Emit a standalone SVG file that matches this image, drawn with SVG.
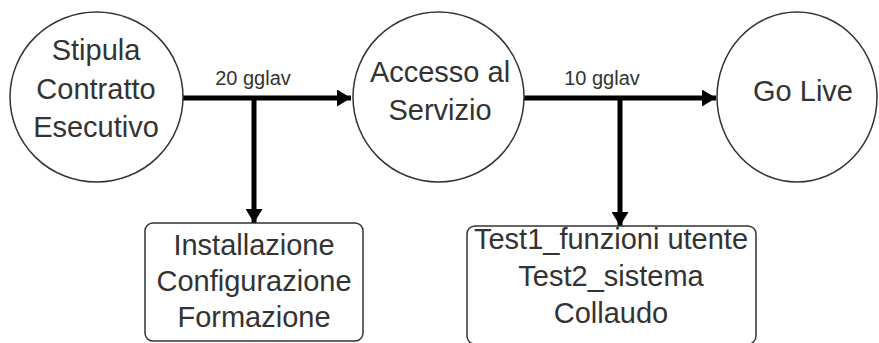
<svg xmlns="http://www.w3.org/2000/svg" width="879" height="343" viewBox="0 0 879 343">
<defs>
<marker id="ah" markerWidth="14" markerHeight="17" refX="14" refY="8.5" orient="auto" markerUnits="userSpaceOnUse">
<path d="M0,0 L14,8.5 L0,17 Z" fill="#000"/>
</marker>
</defs>
<style>
.node{fill:#fff;stroke:#333;stroke-width:1.5}
.t{font-family:"Liberation Sans",Arial,sans-serif;font-size:29px;fill:#333;text-anchor:middle}
.lbl{font-family:"Liberation Sans",Arial,sans-serif;font-size:20px;fill:#333;text-anchor:middle}
.c{stroke:#000;stroke-width:5;fill:none}
</style>
<rect width="879" height="343" fill="#fff"/>
<g id="connectors">
<line class="c" x1="183" y1="98" x2="351" y2="98" marker-end="url(#ah)"/>
<line class="c" x1="254" y1="98" x2="254" y2="223" marker-end="url(#ah)"/>
<line class="c" x1="523" y1="98" x2="716" y2="98" marker-end="url(#ah)"/>
<line class="c" x1="620" y1="98" x2="620" y2="226" marker-end="url(#ah)"/>
<text class="lbl" x="253" y="85">20 gglav</text>
<text class="lbl" x="602" y="85">10 gglav</text>
</g>
<g id="stipula">
<ellipse class="node" cx="96.5" cy="97" rx="86.5" ry="85"/>
<text class="t" x="96" y="60">Stipula</text>
<text class="t" x="96" y="99">Contratto</text>
<text class="t" x="96" y="137">Esecutivo</text>
</g>
<g id="accesso">
<ellipse class="node" cx="438.5" cy="97" rx="85.5" ry="85"/>
<text class="t" x="440" y="82">Accesso al</text>
<text class="t" x="440" y="120">Servizio</text>
</g>
<g id="golive">
<ellipse class="node" cx="797" cy="97" rx="80" ry="85"/>
<text class="t" x="803" y="101">Go Live</text>
</g>
<g id="installazione">
<rect class="node" x="145" y="223" width="218" height="118" rx="8"/>
<text class="t" x="254" y="255">Installazione</text>
<text class="t" x="254" y="291">Configurazione</text>
<text class="t" x="254" y="327">Formazione</text>
</g>
<g id="test">
<rect class="node" x="467" y="226" width="289" height="118" rx="8"/>
<text class="t" x="611" y="249">Test1_funzioni utente</text>
<text class="t" x="611" y="286">Test2_sistema</text>
<text class="t" x="611" y="323">Collaudo</text>
</g>
</svg>
